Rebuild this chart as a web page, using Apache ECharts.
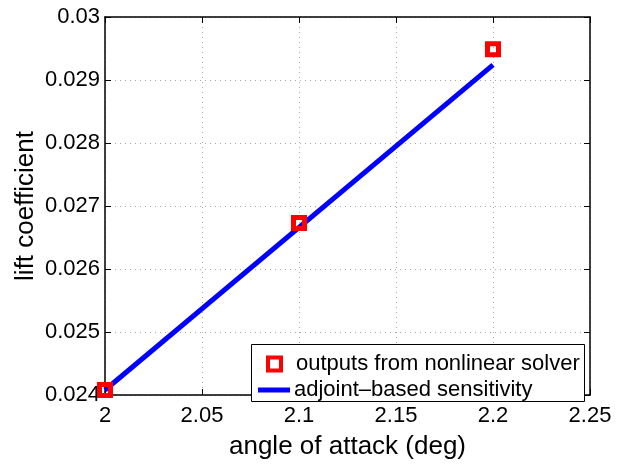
<!DOCTYPE html>
<html><head><meta charset="utf-8">
<script src="https://cdn.jsdelivr.net/npm/echarts@6/dist/echarts.min.js"></script>
<style>html,body{margin:0;padding:0;background:#fff}#c{width:621px;height:465px}</style>
</head><body><div id="c"></div>
<script>
const solverX = [2.0, 2.1, 2.2];
const solverY = [0.02408, 0.02673, 0.02949];
const adjointX = [2.0, 2.2];
const adjointY = [0.02408, 0.02924];
const xTicks = [2, 2.05, 2.1, 2.15, 2.2, 2.25];
const yTicks = [0.024, 0.025, 0.026, 0.027, 0.028, 0.029, 0.03];

const FONT = 'Liberation Sans';
const chart = echarts.init(document.getElementById('c'), null, {renderer: 'canvas'});
const tickCommon = {show: true, inside: true, length: 6, lineStyle: {color: '#000', width: 1}};
const SOLVER = 'outputs from nonlinear solver';
const ADJ = 'adjoint\u2013based sensitivity';
chart.setOption({
  animation: false,
  grid: {left: 105, right: 31, top: 17, bottom: 58, containLabel: false},
  xAxis: [{
    type: 'value', min: 2, max: 2.25, interval: 0.05, position: 'bottom',
    name: 'angle of attack (deg)', nameLocation: 'middle', nameGap: 39, nameMoveOverlap: false,
    nameTextStyle: {fontFamily: FONT, fontSize: 26, color: '#000'},
    axisLine: {show: true, lineStyle: {color: '#000', width: 1.5}},
    axisTick: tickCommon,
    axisLabel: {fontFamily: FONT, fontSize: 22, color: '#000', margin: 10,
      formatter: v => String(+v.toFixed(3))},
    splitLine: {show: true, lineStyle: {color: '#aaa', type: [1, 4], width: 1}}
  }, {
    type: 'value', min: 2, max: 2.25, interval: 0.05, position: 'top',
    axisLine: {show: true, lineStyle: {color: '#000', width: 1.5}},
    axisTick: tickCommon, axisLabel: {show: false}, splitLine: {show: false}
  }],
  yAxis: [{
    type: 'value', min: 0.024, max: 0.03, interval: 0.001, position: 'left',
    name: 'lift coefficient', nameLocation: 'middle', nameGap: 66, nameMoveOverlap: false,
    nameTextStyle: {fontFamily: FONT, fontSize: 26, color: '#000'},
    axisLine: {show: true, lineStyle: {color: '#000', width: 1.5}},
    axisTick: tickCommon,
    axisLabel: {fontFamily: FONT, fontSize: 22, color: '#000', margin: 5,
      formatter: v => String(+v.toFixed(4))},
    splitLine: {show: true, lineStyle: {color: '#aaa', type: [1, 4], width: 1}}
  }, {
    type: 'value', min: 0.024, max: 0.03, interval: 0.001, position: 'right',
    axisLine: {show: true, lineStyle: {color: '#000', width: 1.5}},
    axisTick: tickCommon, axisLabel: {show: false}, splitLine: {show: false}
  }],
  graphic: [{
    type: 'rect', left: 251, top: 344, z: 5,
    shape: {width: 333, height: 57},
    style: {fill: '#fff', stroke: '#000', lineWidth: 1}
  }],
  legend: [{
    orient: 'vertical', left: 266, top: 353, z: 10, padding: 0,
    itemWidth: 13, itemHeight: 13,
    textStyle: {fontFamily: FONT, fontSize: 22, color: '#000', padding: [0, 0, 0, 10]},
    data: [{name: SOLVER, icon: 'rect',
      itemStyle: {color: '#fff', borderColor: '#f00', borderWidth: 4}}]
  }, {
    orient: 'vertical', left: 258, top: 379, z: 10, padding: 0,
    itemWidth: 32, itemHeight: 5,
    textStyle: {fontFamily: FONT, fontSize: 22, color: '#000', padding: [0, 0, 0, -1]},
    data: [{name: ADJ, icon: 'rect', itemStyle: {color: '#00f'}}]
  }],
  series: [{
    name: ADJ, type: 'line',
    data: adjointX.map((x, i) => [x, adjointY[i]]),
    showSymbol: false, lineStyle: {color: '#00f', width: 5}, itemStyle: {color: '#00f'}, z: 2
  }, {
    name: SOLVER, type: 'scatter',
    data: solverX.map((x, i) => [x, solverY[i]]),
    symbol: 'rect', symbolSize: 11,
    itemStyle: {color: 'rgba(255,255,255,0)', borderColor: '#f00', borderWidth: 5, opacity: 1}, z: 3
  }]
});
</script></body></html>
